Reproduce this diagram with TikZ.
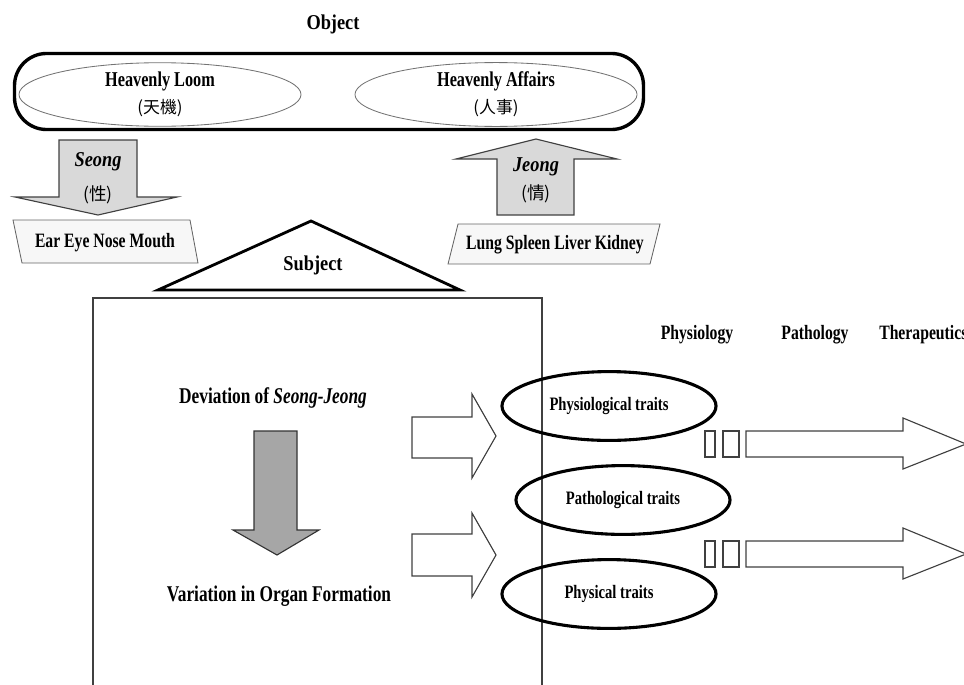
\documentclass[tikz,border=0pt]{standalone}
\usepackage{fontspec}
\setmainfont{Liberation Serif}[FakeStretch=0.77]
\newfontfamily\wideserif{Liberation Serif}[FakeStretch=0.87]
\newfontfamily\cjk{Noto Sans CJK TC}
\usetikzlibrary{shapes.geometric, positioning}
\tikzset{
  txt/.style={inner sep=0pt, font=\fontsize{14.5}{17}\selectfont\bfseries},
  bigtxt/.style={inner sep=0pt, font=\wideserif\fontsize{15}{18}\selectfont\bfseries},
  midtxt/.style={inner sep=0pt, font=\fontsize{16}{19}\selectfont\bfseries},
  zi/.style={inner sep=0pt, font=\cjk\fontsize{12.5}{14}\selectfont},
  heaven/.style={ellipse, draw=black!55, line width=0.6pt, minimum width=7.05cm,
    minimum height=1.5cm, inner sep=0pt, align=center, font=\fontsize{15}{19.2}\selectfont\bfseries},
  trait/.style={ellipse, draw, line width=2.2pt, minimum width=5.35cm,
    minimum height=1.72cm, inner sep=0pt, font=\fontsize{13.5}{16}\selectfont\bfseries},
  organ/.style={draw=black!60, fill=gray!6, line width=0.6pt},
  grayarr/.style={draw=black!75, fill=gray!30, line width=0.8pt},
  darkarr/.style={draw=black!80, fill=gray!70, line width=0.8pt},
  hollow/.style={draw=black!75, fill=white, line width=0.8pt},
}
\begin{document}
\begin{tikzpicture}[x=0.025cm, y=-0.025cm]
  \useasboundingbox (0,0) rectangle (964,684);

  % Object
  \node[bigtxt] (obj) at (333,24) {Object};
  \node[draw, line width=2.4pt, rounded corners=0.8cm, minimum width=15.72cm,
    minimum height=1.9cm] (objbox) at (329,91.5) {};
  \node[heaven] (loom) at (160,94.5) {Heavenly Loom\\{\cjk\mdseries\fontsize{12}{19.2}\selectfont(天機)}};
  \node[heaven] (affairs) at (496,94.5) {Heavenly Affairs\\{\cjk\mdseries\fontsize{12}{19.2}\selectfont(人事)}};

  % Seong and Jeong
  \draw[grayarr] (59,140) -- (137,140) -- (137,197) -- (177,197) -- (98,215) -- (15,197) -- (59,197) -- cycle;
  \node[bigtxt] (seong) at (98,162) {\itshape Seong};
  \node[zi] (seongzi) at (98,195) {(性)};
  \draw[grayarr] (497,215) -- (497,159) -- (456,159) -- (536,139) -- (617,159) -- (574,159) -- (574,215) -- cycle;
  \node[bigtxt] (jeong) at (536,167) {\itshape Jeong};
  \node[zi] (jeongzi) at (536,194) {(情)};

  % organs
  \draw[organ] (13,220) -- (190,220) -- (198,263) -- (22,263) -- cycle;
  \node[txt] (sense) at (105,243) {Ear Eye Nose Mouth};
  \draw[organ] (458,224) -- (660,224) -- (650,264) -- (448,264) -- cycle;
  \node[txt] (viscera) at (555,245) {Lung Spleen Liver Kidney};

  % Subject
  \draw[line width=2pt] (158,290) -- (311,221) -- (460,290) -- cycle;
  \node[bigtxt] (subj) at (313,265) {Subject};
  \draw[black!75, line width=0.9pt] (93,700) |- (542,298) -- (542,700);

  \node[midtxt] (dev) at (273,398) {Deviation of \textit{Seong-Jeong}};
  \draw[darkarr] (254,431) -- (297,431) -- (297,530) -- (319,530) -- (277,555) -- (233,530) -- (254,530) -- cycle;
  \node[midtxt] (var) at (279,596) {Variation in Organ Formation};

  \draw[hollow] (412,417) -- (472,417) -- (472,394) -- (496,436) -- (472,478) -- (472,458) -- (412,458) -- cycle;
  \draw[hollow] (412,534) -- (472,534) -- (472,513) -- (496,555) -- (472,597) -- (472,576) -- (412,576) -- cycle;

  % traits
  \node[trait] (physio) at (609,406) {Physiological traits};
  \node[trait] (patho) at (623,500) {Pathological traits};
  \node[trait] (phys) at (609,594) {Physical traits};

  % medicine
  \node[txt] (hphysio) at (697,335) {Physiology};
  \node[txt] (hpatho) at (815,335) {Pathology};
  \node[txt, anchor=west] (hthera) at (879,335) {Therapeutics};

  \draw[hollow] (705,431) rectangle (715,457);
  \draw[hollow] (723,431) rectangle (739,457);
  \draw[hollow] (746,431) -- (903,431) -- (903,418) -- (966,444) -- (903,469) -- (903,457) -- (746,457) -- cycle;
  \draw[hollow] (705,541) rectangle (715,567);
  \draw[hollow] (723,541) rectangle (739,567);
  \draw[hollow] (746,541) -- (903,541) -- (903,528) -- (966,554) -- (903,579) -- (903,567) -- (746,567) -- cycle;
\end{tikzpicture}
\end{document}
